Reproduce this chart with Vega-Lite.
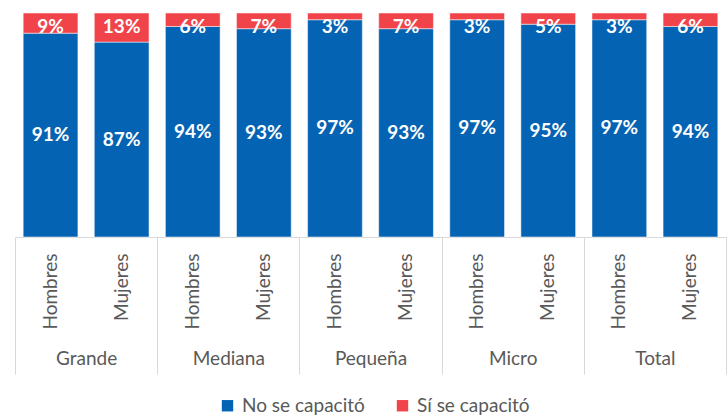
{
  "$schema": "https://vega.github.io/schema/vega-lite/v6.json",
  "width": 711,
  "height": 224,
  "padding": {"left": 14, "top": 12, "right": 2, "bottom": 0},
  "autosize": {"type": "pad"},
  "background": "white",
  "config": {"view": {"stroke": null}, "font": "Lato"},
  "data": {
    "values": [
      {"id": "Grande|Hombres", "grupo": "Grande", "cat": "No se capacitó", "valor": 0.91},
      {"id": "Grande|Hombres", "grupo": "Grande", "cat": "Sí se capacitó", "valor": 0.09},
      {"id": "Grande|Mujeres", "grupo": "Grande", "cat": "No se capacitó", "valor": 0.87},
      {"id": "Grande|Mujeres", "grupo": "Grande", "cat": "Sí se capacitó", "valor": 0.13},
      {"id": "Mediana|Hombres", "grupo": "Mediana", "cat": "No se capacitó", "valor": 0.94},
      {"id": "Mediana|Hombres", "grupo": "Mediana", "cat": "Sí se capacitó", "valor": 0.06},
      {"id": "Mediana|Mujeres", "grupo": "Mediana", "cat": "No se capacitó", "valor": 0.93},
      {"id": "Mediana|Mujeres", "grupo": "Mediana", "cat": "Sí se capacitó", "valor": 0.07},
      {"id": "Pequeña|Hombres", "grupo": "Pequeña", "cat": "No se capacitó", "valor": 0.97},
      {"id": "Pequeña|Hombres", "grupo": "Pequeña", "cat": "Sí se capacitó", "valor": 0.03},
      {"id": "Pequeña|Mujeres", "grupo": "Pequeña", "cat": "No se capacitó", "valor": 0.93},
      {"id": "Pequeña|Mujeres", "grupo": "Pequeña", "cat": "Sí se capacitó", "valor": 0.07},
      {"id": "Micro|Hombres", "grupo": "Micro", "cat": "No se capacitó", "valor": 0.97},
      {"id": "Micro|Hombres", "grupo": "Micro", "cat": "Sí se capacitó", "valor": 0.03},
      {"id": "Micro|Mujeres", "grupo": "Micro", "cat": "No se capacitó", "valor": 0.95},
      {"id": "Micro|Mujeres", "grupo": "Micro", "cat": "Sí se capacitó", "valor": 0.05},
      {"id": "Total|Hombres", "grupo": "Total", "cat": "No se capacitó", "valor": 0.97},
      {"id": "Total|Hombres", "grupo": "Total", "cat": "Sí se capacitó", "valor": 0.03},
      {"id": "Total|Mujeres", "grupo": "Total", "cat": "No se capacitó", "valor": 0.94},
      {"id": "Total|Mujeres", "grupo": "Total", "cat": "Sí se capacitó", "valor": 0.06}
    ]
  },
  "layer": [
    {
      "encoding": {
        "x": {
          "field": "id",
          "type": "nominal",
          "sort": null,
          "scale": {"paddingInner": 0.23, "paddingOuter": 0.115},
          "axis": {
            "orient": "bottom",
            "title": null,
            "domain": true,
            "domainColor": "#D9D9D9",
            "ticks": false,
            "grid": false,
            "labelAngle": -90,
            "labelPadding": 16,
            "labelFontSize": 19,
            "labelColor": "#595959",
            "labelExpr": "split(datum.label, '|')[1]"
          }
        }
      },
      "layer": [
        {
          "mark": {"type": "bar", "stroke": "white", "strokeWidth": 0.5},
          "encoding": {
            "y": {"field": "valor", "type": "quantitative", "stack": "zero", "scale": {"domain": [0, 1]}, "axis": null},
            "order": {"field": "cat", "sort": "ascending"},
            "color": {
              "field": "cat",
              "type": "nominal",
              "scale": {"domain": ["No se capacitó", "Sí se capacitó"], "range": ["#0563B4", "#F0434A"]},
              "legend": {
                "orient": "none",
                "legendX": 203,
                "legendY": 383,
                "direction": "horizontal",
                "title": null,
                "symbolType": "square",
                "symbolSize": 130,
                "symbolStrokeWidth": 0,
                "labelFontSize": 19,
                "labelColor": "#595959",
                "labelOffset": 5,
                "columnPadding": 28
              }
            }
          }
        },
        {
          "transform": [{"filter": "datum.cat === 'No se capacitó'"}],
          "mark": {"type": "text", "color": "white", "fontWeight": "bold", "fontSize": 19, "baseline": "middle"},
          "encoding": {
            "y": {"field": "valor", "type": "quantitative", "stack": "zero", "bandPosition": 0.5},
            "detail": {"field": "cat"},
            "text": {"field": "valor", "type": "quantitative", "format": ".0%"}
          }
        },
        {
          "transform": [{"filter": "datum.cat === 'Sí se capacitó'"}],
          "mark": {"type": "text", "color": "white", "fontWeight": "bold", "fontSize": 19, "baseline": "middle", "dy": 14},
          "encoding": {
            "y": {"datum": 1, "type": "quantitative"},
            "text": {"field": "valor", "type": "quantitative", "format": ".0%"}
          }
        }
      ]
    },
    {
      "mark": {"type": "point", "opacity": 0},
      "encoding": {
        "x": {
          "field": "grupo",
          "type": "nominal",
          "sort": ["Grande", "Mediana", "Pequeña", "Micro", "Total"],
          "scale": {"paddingInner": 0, "paddingOuter": 0},
          "axis": {
            "orient": "bottom",
            "title": null,
            "domain": false,
            "grid": false,
            "ticks": true,
            "tickBand": "extent",
            "tickSize": 137,
            "tickColor": "#D9D9D9",
            "tickWidth": 1,
            "labelAngle": 0,
            "labelPadding": -25,
            "labelFontSize": 19,
            "labelColor": "#595959"
          }
        }
      }
    }
  ],
  "resolve": {"scale": {"x": "independent"}}
}
